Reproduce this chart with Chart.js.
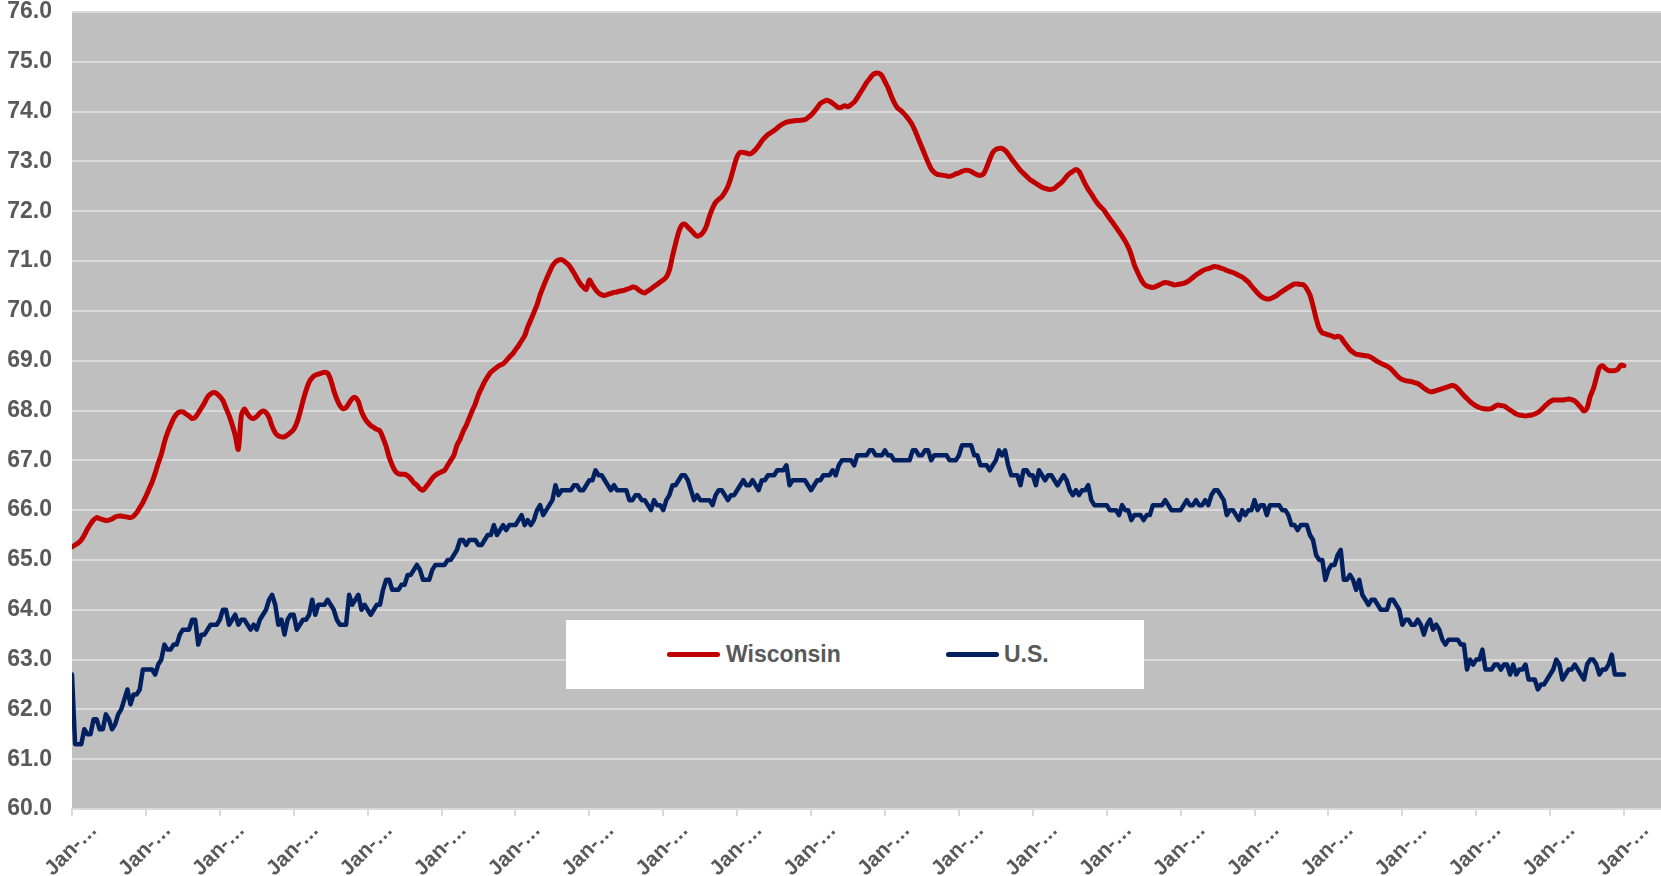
<!DOCTYPE html>
<html>
<head>
<meta charset="utf-8">
<title>Labor force participation rate: Wisconsin vs U.S.</title>
<script src="https://cdn.jsdelivr.net/npm/chart.js@4.4.1/dist/chart.umd.min.js"></script>
<style>
    html, body { margin: 0; padding: 0; background: #ffffff; }
    #wrap { position: relative; width: 1661px; height: 876px; }
    #legendBox {
        position: absolute; left: 566px; top: 620px; width: 578px; height: 69px;
        background: #ffffff;
        font: bold 23px "Liberation Sans", Arial, sans-serif; color: #595959;
    }
    .swatch { position: absolute; top: 32px; width: 53px; height: 5px; border-radius: 3px; }
    .lbl { position: absolute; top: 20px; line-height: 28px; }
</style>
</head>
<body>
<div id="wrap">
    <canvas id="lfprChart"></canvas>
    <div id="legendBox">
        <span class="swatch" style="left:101px;background:#c00000"></span>
        <span class="lbl" style="left:160px">Wisconsin</span>
        <span class="swatch" style="left:380px;background:#002060"></span>
        <span class="lbl" style="left:438px">U.S.</span>
    </div>
</div>
<script>
// x tick labels, one every 24 months starting Jan-76
const yearLabels = ['Jan-76', 'Jan-78', 'Jan-80', 'Jan-82', 'Jan-84', 'Jan-86', 'Jan-88', 'Jan-90',
    'Jan-92', 'Jan-94', 'Jan-96', 'Jan-98', 'Jan-00', 'Jan-02', 'Jan-04', 'Jan-06', 'Jan-08',
    'Jan-10', 'Jan-12', 'Jan-14', 'Jan-16', 'Jan-18'];

// monthly values, Jan-76 .. Jan-18
const wiRate = [
    65.26, 65.30, 65.34, 65.40, 65.50, 65.62, 65.72, 65.80, 65.85, 65.83, 65.81, 65.79,
    65.80, 65.82, 65.86, 65.88, 65.88, 65.87, 65.86, 65.85, 65.88, 65.95, 66.05, 66.15,
    66.28, 66.42, 66.56, 66.74, 66.94, 67.12, 67.36, 67.55, 67.70, 67.84, 67.93, 67.97,
    67.97, 67.93, 67.89, 67.84, 67.86, 67.95, 68.05, 68.15, 68.27, 68.33, 68.36, 68.34,
    68.28, 68.20, 68.05, 67.90, 67.72, 67.50, 67.22, 67.90, 68.03, 67.93, 67.86, 67.84,
    67.88, 67.95, 67.99, 67.96, 67.86, 67.68, 67.55, 67.49, 67.47, 67.47, 67.51, 67.56,
    67.62, 67.75, 67.95, 68.19, 68.40, 68.57, 68.66, 68.71, 68.73, 68.75, 68.77, 68.75,
    68.62, 68.40, 68.23, 68.10, 68.04, 68.06, 68.15, 68.24, 68.26, 68.18, 67.98, 67.85,
    67.76, 67.70, 67.66, 67.62, 67.59, 67.45, 67.28, 67.06, 66.90, 66.78, 66.73, 66.72,
    66.72, 66.69, 66.63, 66.55, 66.50, 66.43, 66.40, 66.47, 66.55, 66.64, 66.70, 66.74,
    66.77, 66.80, 66.90, 67.00, 67.10, 67.30, 67.42, 67.58, 67.70, 67.85, 68.00, 68.14,
    68.32, 68.45, 68.58, 68.68, 68.77, 68.82, 68.87, 68.91, 68.94, 69.00, 69.07, 69.13,
    69.22, 69.30, 69.40, 69.50, 69.68, 69.82, 69.97, 70.12, 70.32, 70.48, 70.63, 70.77,
    70.90, 70.98, 71.02, 71.03, 70.99, 70.94, 70.86, 70.76, 70.65, 70.55, 70.48, 70.43,
    70.62, 70.52, 70.43, 70.36, 70.32, 70.31, 70.33, 70.35, 70.37, 70.38, 70.40, 70.41,
    70.43, 70.45, 70.48, 70.47, 70.42, 70.38, 70.36, 70.40, 70.44, 70.49, 70.53, 70.58,
    70.62, 70.68, 70.82, 71.10, 71.35, 71.58, 71.72, 71.74, 71.68, 71.62, 71.55, 71.50,
    71.52, 71.58, 71.70, 71.90, 72.06, 72.18, 72.24, 72.29, 72.38, 72.50, 72.68, 72.90,
    73.10, 73.18, 73.18, 73.17, 73.15, 73.18, 73.24, 73.32, 73.41, 73.48, 73.54, 73.58,
    73.62, 73.67, 73.72, 73.76, 73.79, 73.80, 73.81, 73.82, 73.82, 73.83, 73.84, 73.88,
    73.93, 74.00, 74.08, 74.16, 74.20, 74.23, 74.21, 74.17, 74.12, 74.08, 74.09, 74.12,
    74.10, 74.14, 74.19, 74.28, 74.38, 74.48, 74.58, 74.66, 74.74, 74.77, 74.77, 74.72,
    74.60, 74.48, 74.32, 74.18, 74.08, 74.03, 73.97, 73.90, 73.82, 73.72, 73.58, 73.43,
    73.28, 73.13, 72.98, 72.85, 72.78, 72.74, 72.73, 72.72, 72.71, 72.70, 72.72, 72.75,
    72.77, 72.80, 72.82, 72.82, 72.80, 72.76, 72.73, 72.72, 72.75, 72.88, 73.04, 73.18,
    73.24, 73.26, 73.26, 73.22, 73.15, 73.06, 72.98, 72.90, 72.82, 72.76, 72.70, 72.64,
    72.60, 72.56, 72.52, 72.48, 72.46, 72.44, 72.44, 72.46, 72.51, 72.56, 72.62, 72.70,
    72.76, 72.80, 72.84, 72.80, 72.68, 72.55, 72.44, 72.35, 72.25, 72.16, 72.09, 72.03,
    71.94, 71.85, 71.77, 71.68, 71.59, 71.50, 71.40, 71.28, 71.12, 70.92, 70.78, 70.65,
    70.55, 70.50, 70.48, 70.47, 70.49, 70.52, 70.55, 70.57, 70.56, 70.54, 70.52, 70.53,
    70.54, 70.55, 70.58, 70.62, 70.67, 70.72, 70.76, 70.80, 70.83, 70.85, 70.87, 70.89,
    70.88, 70.86, 70.84, 70.81, 70.79, 70.77, 70.74, 70.71, 70.68, 70.63, 70.58, 70.50,
    70.43, 70.36, 70.30, 70.26, 70.24, 70.24, 70.27, 70.30, 70.35, 70.39, 70.43, 70.47,
    70.51, 70.54, 70.54, 70.53, 70.52, 70.44, 70.32, 70.10, 69.85, 69.65, 69.56, 69.54,
    69.52, 69.50, 69.47, 69.49, 69.47, 69.38, 69.30, 69.22, 69.17, 69.13, 69.12, 69.11,
    69.10, 69.09, 69.06, 69.02, 68.98, 68.95, 68.92, 68.89, 68.85, 68.79, 68.72, 68.66,
    68.62, 68.60, 68.59, 68.58, 68.56, 68.54, 68.50, 68.45, 68.41, 68.38, 68.38, 68.40,
    68.42, 68.44, 68.46, 68.48, 68.50, 68.49, 68.44, 68.37, 68.30, 68.24, 68.18, 68.13,
    68.09, 68.06, 68.04, 68.03, 68.03, 68.04, 68.08, 68.11, 68.10, 68.09, 68.05, 68.01,
    67.97, 67.93, 67.91, 67.90, 67.89, 67.90, 67.91, 67.93, 67.96, 68.01, 68.07, 68.13,
    68.18, 68.21, 68.21, 68.21, 68.21, 68.22, 68.23, 68.22, 68.19, 68.13, 68.06, 67.99,
    68.05, 68.28, 68.43, 68.65, 68.86, 68.90, 68.84, 68.80, 68.80, 68.80, 68.83, 68.91,
    68.90
];

const usRate = [
    62.7, 61.3, 61.3, 61.3, 61.6, 61.5, 61.5, 61.8, 61.8, 61.6, 61.6, 61.9,
    61.8, 61.6, 61.7, 61.9, 62.0, 62.2, 62.4, 62.1, 62.3, 62.3, 62.4, 62.8,
    62.8, 62.8, 62.8, 62.7, 62.9, 63.0, 63.3, 63.2, 63.2, 63.3, 63.3, 63.5,
    63.6, 63.6, 63.6, 63.8, 63.8, 63.3, 63.5, 63.5, 63.6, 63.7, 63.7, 63.7,
    63.8, 64.0, 64.0, 63.7, 63.8, 63.9, 63.7, 63.8, 63.8, 63.7, 63.6, 63.7,
    63.6, 63.8, 63.9, 64.0, 64.2, 64.3, 64.1, 63.7, 63.8, 63.5, 63.8, 63.9,
    63.9, 63.6, 63.7, 63.8, 63.8, 63.9, 64.2, 63.9, 64.1, 64.1, 64.1, 64.2,
    64.1, 64.0, 63.8, 63.7, 63.7, 63.7, 64.3, 64.1, 64.2, 64.3, 64.0, 64.1,
    64.0, 63.9, 64.0, 64.1, 64.1, 64.4, 64.6, 64.6, 64.4, 64.4, 64.4, 64.5,
    64.5, 64.7, 64.7, 64.8, 64.9, 64.8, 64.6, 64.6, 64.6, 64.8, 64.9, 64.9,
    64.9, 64.9, 65.0, 65.0, 65.1, 65.2, 65.4, 65.4, 65.3, 65.4, 65.4, 65.4,
    65.3, 65.3, 65.4, 65.5, 65.5, 65.7, 65.5, 65.6, 65.7, 65.6, 65.7, 65.7,
    65.7, 65.8, 65.9, 65.7, 65.8, 65.7, 65.8, 66.0, 66.1, 65.9, 66.0, 66.1,
    66.2, 66.5, 66.3, 66.4, 66.4, 66.4, 66.4, 66.5, 66.5, 66.4, 66.4, 66.5,
    66.6, 66.6, 66.8, 66.7, 66.7, 66.6, 66.5, 66.4, 66.5, 66.4, 66.4, 66.4,
    66.4, 66.2, 66.2, 66.3, 66.3, 66.2, 66.2, 66.1, 66.0, 66.2, 66.1, 66.1,
    66.0, 66.2, 66.3, 66.5, 66.5, 66.6, 66.7, 66.7, 66.6, 66.4, 66.2, 66.3,
    66.2, 66.2, 66.2, 66.2, 66.1, 66.3, 66.4, 66.4, 66.3, 66.2, 66.3, 66.3,
    66.4, 66.5, 66.6, 66.5, 66.5, 66.6, 66.5, 66.4, 66.6, 66.6, 66.7, 66.7,
    66.7, 66.8, 66.8, 66.8, 66.9, 66.5, 66.6, 66.6, 66.6, 66.6, 66.6, 66.5,
    66.4, 66.5, 66.6, 66.6, 66.7, 66.7, 66.7, 66.8, 66.7, 66.9, 67.0, 67.0,
    67.0, 67.0, 66.9, 67.1, 67.1, 67.1, 67.1, 67.2, 67.2, 67.1, 67.1, 67.1,
    67.2, 67.1, 67.1, 67.0, 67.0, 67.0, 67.0, 67.0, 67.0, 67.2, 67.2, 67.1,
    67.1, 67.2, 67.2, 67.0, 67.1, 67.1, 67.1, 67.1, 67.1, 67.0, 67.0, 67.0,
    67.1, 67.3, 67.3, 67.3, 67.3, 67.1, 67.1, 66.9, 66.9, 66.9, 66.8, 66.9,
    67.0, 67.2, 67.1, 67.2, 66.9, 66.7, 66.7, 66.7, 66.5, 66.8, 66.8, 66.7,
    66.7, 66.5, 66.8, 66.7, 66.6, 66.7, 66.7, 66.6, 66.5, 66.6, 66.7, 66.6,
    66.4, 66.3, 66.4, 66.3, 66.4, 66.4, 66.5, 66.2, 66.1, 66.1, 66.1, 66.1,
    66.1, 66.0, 66.0, 66.0, 65.9, 66.1, 66.0, 66.0, 65.8, 65.9, 65.9, 65.9,
    65.8, 65.9, 65.9, 66.1, 66.1, 66.1, 66.1, 66.2, 66.1, 66.0, 66.0, 66.0,
    66.0, 66.1, 66.2, 66.1, 66.1, 66.2, 66.1, 66.1, 66.2, 66.1, 66.3, 66.4,
    66.4, 66.3, 66.2, 65.9, 66.0, 66.0, 65.9, 65.8, 66.0, 65.9, 66.0, 66.0,
    66.2, 66.0, 66.1, 66.1, 65.9, 66.1, 66.1, 66.1, 66.1, 66.0, 66.0, 65.9,
    65.7, 65.7, 65.6, 65.7, 65.7, 65.7, 65.5, 65.4, 65.1, 65.0, 65.0, 64.6,
    64.8, 64.9, 64.9, 65.1, 65.2, 64.6, 64.6, 64.7, 64.6, 64.4, 64.6, 64.3,
    64.2, 64.1, 64.2, 64.2, 64.1, 64.0, 64.0, 64.0, 64.2, 64.2, 64.1, 64.0,
    63.7, 63.8, 63.8, 63.7, 63.7, 63.8, 63.7, 63.5, 63.7, 63.8, 63.6, 63.7,
    63.6, 63.4, 63.3, 63.4, 63.4, 63.4, 63.4, 63.3, 63.3, 62.8, 63.0, 62.9,
    63.0, 63.0, 63.2, 62.8, 62.8, 62.8, 62.9, 62.9, 62.8, 62.9, 62.9, 62.7,
    62.9, 62.7, 62.8, 62.8, 62.9, 62.6, 62.6, 62.6, 62.4, 62.5, 62.5, 62.6,
    62.7, 62.8, 63.0, 62.9, 62.6, 62.7, 62.8, 62.8, 62.9, 62.8, 62.7, 62.6,
    62.9, 63.0, 63.0, 62.9, 62.7, 62.8, 62.8, 62.9, 63.1, 62.7, 62.7, 62.7,
    62.7
];

const MONTHS_PER_LABEL = 24;
const X_MAX = 516; // plot area runs a little past the last label

document.addEventListener('DOMContentLoaded', function() {
    if (typeof Chart === 'undefined') {
        console.error('Chart.js not loaded');
        return;
    }
    drawChart();
});

function toPoints(values) {
    return values.map((v, i) => ({ x: i, y: v }));
}

// grey plot background
const plotBackground = {
    id: 'plotBackground',
    beforeDraw(chart) {
        const { ctx, chartArea } = chart;
        ctx.save();
        ctx.fillStyle = '#bfbfbf';
        ctx.fillRect(chartArea.left, chartArea.top, chartArea.right - chartArea.left, chartArea.bottom - chartArea.top);
        ctx.restore();
    }
};

function drawChart() {
    const ctx = document.getElementById('lfprChart');
    const tickFont = { family: '"Liberation Sans", Arial, sans-serif', weight: 'bold' };

    new Chart(ctx, {
        type: 'line',
        data: {
            datasets: [{
                label: 'Wisconsin',
                data: toPoints(wiRate),
                borderColor: '#c00000',
                borderWidth: 5,
                tension: 0.3,
                pointRadius: 0,
                borderJoinStyle: 'round',
                borderCapStyle: 'round'
            }, {
                label: 'U.S.',
                data: toPoints(usRate),
                borderColor: '#002060',
                borderWidth: 4.5,
                tension: 0,
                pointRadius: 0,
                borderJoinStyle: 'round',
                borderCapStyle: 'round'
            }]
        },
        options: {
            responsive: true,
            maintainAspectRatio: false,
            animation: false,
            devicePixelRatio: 1,
            layout: { padding: 0 },
            plugins: {
                legend: { display: false },
                tooltip: { enabled: false }
            },
            scales: {
                x: {
                    type: 'linear',
                    min: 0,
                    max: X_MAX,
                    afterBuildTicks: (axis) => {
                        axis.ticks = yearLabels.map((_, k) => ({ value: k * MONTHS_PER_LABEL }));
                    },
                    afterFit: (scale) => { scale.height = 67; },
                    grid: {
                        drawOnChartArea: false,
                        drawTicks: true,
                        tickLength: 7,
                        color: '#d9d9d9',
                        lineWidth: 2
                    },
                    border: { display: true, color: '#d9d9d9', width: 2 },
                    ticks: {
                        autoSkip: false,
                        maxRotation: 45,
                        minRotation: 45,
                        labelOffset: 22,
                        padding: 2,
                        color: '#595959',
                        font: { ...tickFont, size: 21 },
                        // Excel cut the labels down to "Jan-…"
                        callback: (value) => {
                            const label = yearLabels[Math.round(value / MONTHS_PER_LABEL)] || '';
                            return label.slice(0, 4) + '\u2026';
                        }
                    }
                },
                y: {
                    min: 60,
                    max: 76,
                    afterFit: (scale) => {
                        scale.width = 72;
                        scale.paddingTop = 12;
                        scale.paddingBottom = 0;
                    },
                    grid: {
                        color: '#d9d9d9',
                        lineWidth: 2,
                        drawTicks: false
                    },
                    border: { display: false },
                    ticks: {
                        stepSize: 1,
                        padding: 20,
                        color: '#595959',
                        font: { ...tickFont, size: 23 },
                        callback: (value) => value.toFixed(1)
                    }
                }
            }
        },
        plugins: [plotBackground]
    });
}
</script>
</body>
</html>
